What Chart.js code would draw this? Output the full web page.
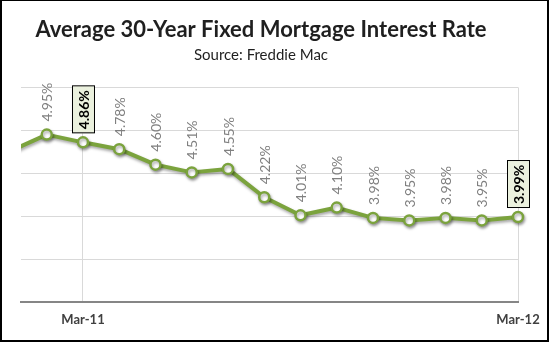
<!DOCTYPE html>
<html>
<head>
<meta charset="utf-8">
<script src="https://cdn.jsdelivr.net/npm/chart.js@4"></script>
<style>
  html, body { margin: 0; padding: 0; background: #ffffff; }
  #wrap { position: relative; width: 550px; height: 342px; }
</style>
</head>
<body>
<div id="wrap"><canvas id="c" width="550" height="342"></canvas></div>
<script>
// ---- data ----
const months = ['Jan-11','Feb-11','Mar-11','Apr-11','May-11','Jun-11','Jul-11','Aug-11','Sep-11','Oct-11','Nov-11','Dec-11','Jan-12','Feb-12','Mar-12'];
const rates = [4.76, 4.95, 4.86, 4.78, 4.60, 4.51, 4.55, 4.22, 4.01, 4.10, 3.98, 3.95, 3.98, 3.95, 3.99];
const tickMonths = ['Mar-11', 'Mar-12'];
const highlightMonths = ['Mar-11', 'Mar-12'];
const yTicks = [3.0, 3.5, 4.0, 4.5, 5.0, 5.5];
const titleText = 'Average 30-Year Fixed Mortgage Interest Rate';
const subtitleText = 'Source: Freddie Mac';

const GREEN = '#7ba33d';
const FONT = 'Lato, Carlito, "Liberation Sans", sans-serif';

const points = rates.map((v, i) => ({ x: i, y: v }));

const bgBorder = {
  id: 'bgBorder',
  beforeDraw(chart) {
    const ctx = chart.ctx;
    ctx.save();
    ctx.fillStyle = '#ffffff';
    ctx.fillRect(0, 0, chart.width, chart.height);
    ctx.restore();
  },
  afterDraw(chart) {
    const ctx = chart.ctx;
    ctx.save();
    ctx.fillStyle = '#000000';
    ctx.fillRect(0, 0, 549, 1);      // top
    ctx.fillRect(0, 0, 2, 342);      // left
    ctx.fillRect(547, 0, 2, 342);    // right
    ctx.fillRect(0, 340, 549, 2);    // bottom
    ctx.restore();
  }
};

const lineShadow = {
  id: 'lineShadow',
  beforeDatasetDraw(chart) {
    const ctx = chart.ctx;
    ctx.save();
    ctx.shadowColor = 'rgba(0,0,0,0.35)';
    ctx.shadowBlur = 3;
    ctx.shadowOffsetX = 1;
    ctx.shadowOffsetY = 2;
  },
  afterDatasetDraw(chart) {
    chart.ctx.restore();
  }
};

const pointLabels = {
  id: 'pointLabels',
  afterDatasetsDraw(chart) {
    const ctx = chart.ctx;
    const meta = chart.getDatasetMeta(0);
    const area = chart.chartArea;
    meta.data.forEach((pt, i) => {
      if (pt.x < area.left - 1) return;
      const txt = rates[i].toFixed(2) + '%';
      const hl = highlightMonths.includes(months[i]);
      ctx.save();
      ctx.translate(pt.x, pt.y);
      ctx.rotate(-Math.PI / 2);
      ctx.textAlign = 'left';
      ctx.textBaseline = 'middle';
      if (hl) {
        ctx.font = 'bold 14px ' + FONT;
        const w = ctx.measureText(txt).width;
        const gap = 9, pad = 4, h = 22;
        ctx.fillStyle = '#ebf1de';
        ctx.fillRect(gap, -h / 2, w + 2 * pad, h);
        ctx.strokeStyle = '#000000';
        ctx.lineWidth = 1;
        ctx.strokeRect(Math.round(gap) + 0.5, -h / 2 + 0.5, Math.round(w + 2 * pad), h);
        ctx.fillStyle = '#000000';
        ctx.fillText(txt, gap + pad, 1);
      } else {
        ctx.font = '14px ' + FONT;
        ctx.fillStyle = '#808080';
        ctx.fillText(txt, 13, 1);
      }
      ctx.restore();
    });
  }
};

new Chart(document.getElementById('c'), {
  type: 'line',
  data: {
    datasets: [{
      data: points,
      borderColor: GREEN,
      borderWidth: 4,
      borderJoinStyle: 'round',
      borderCapStyle: 'round',
      tension: 0,
      pointRadius: 5,
      pointBorderWidth: 2.5,
      pointBackgroundColor: '#ffffff',
      pointBorderColor: GREEN,
      clip: { left: 0, top: 20, right: 20, bottom: 20 }
    }]
  },
  options: {
    responsive: false,
    animation: false,
    events: [],
    layout: { padding: { left: 4, right: 32, top: 0, bottom: 0 }, autoPadding: false },
    plugins: {
      legend: { display: false },
      tooltip: { enabled: false },
      title: {
        display: true,
        text: titleText,
        color: '#1f1f1f',
        font: { family: FONT, size: 22, weight: 'bold', lineHeight: 1.2 },
        padding: { top: 17, bottom: 3 }
      },
      subtitle: {
        display: true,
        text: subtitleText,
        color: '#1f1f1f',
        font: { family: FONT, size: 15, weight: 'normal', lineHeight: 1.2 },
        padding: { top: 0, bottom: 23 }
      }
    },
    scales: {
      x: {
        type: 'linear',
        min: 0.29,
        max: months.length - 1,
        afterBuildTicks(scale) {
          scale.ticks = tickMonths.map(m => ({ value: months.indexOf(m) }));
        },
        afterFit(scale) { scale.height = 40; },
        ticks: {
          callback: (v) => months[v],
          color: '#404040',
          font: { family: FONT, size: 13, weight: 'bold' },
          padding: 10,
          maxRotation: 0,
          autoSkip: false
        },
        grid: { color: '#d9d9d9', lineWidth: 1, drawTicks: false },
        border: { display: true, color: '#868686', width: 2 }
      },
      y: {
        min: yTicks[0],
        max: yTicks[yTicks.length - 1],
        afterBuildTicks(scale) {
          scale.ticks = yTicks.map(v => ({ value: v }));
        },
        afterFit(scale) { scale.width = 17; },
        ticks: { display: false },
        grid: { color: '#d9d9d9', lineWidth: 1, drawTicks: false },
        border: { display: false }
      }
    }
  },
  plugins: [bgBorder, lineShadow, pointLabels]
});
</script>
</body>
</html>
